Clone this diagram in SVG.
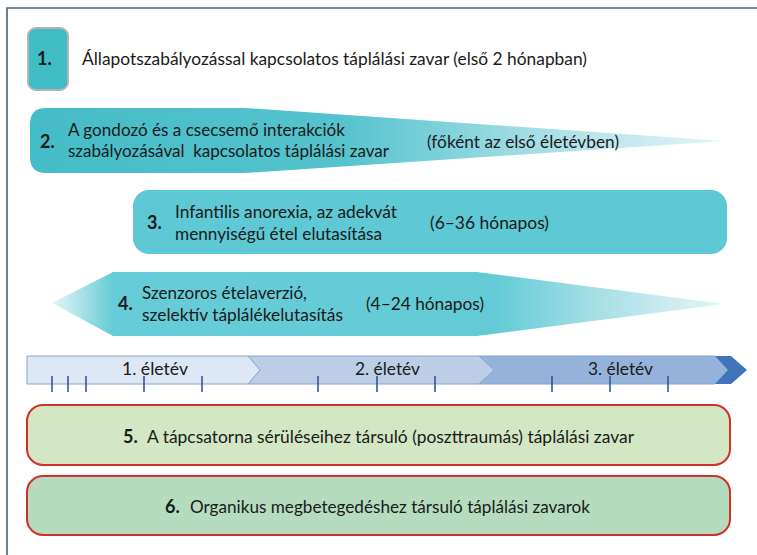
<svg xmlns="http://www.w3.org/2000/svg" width="757" height="555" viewBox="0 0 757 555">
<defs>
<linearGradient id="g2" gradientUnits="userSpaceOnUse" x1="30" y1="0" x2="725" y2="0">
<stop offset="0" stop-color="#44bcc7"/>
<stop offset="0.45" stop-color="#55c3ce"/>
<stop offset="0.72" stop-color="#a3dde5"/>
<stop offset="1" stop-color="#e6f6f8"/>
</linearGradient>
<linearGradient id="g4" gradientUnits="userSpaceOnUse" x1="52" y1="0" x2="725" y2="0">
<stop offset="0" stop-color="#e6f6f8"/>
<stop offset="0.09" stop-color="#66ccd7"/>
<stop offset="0.66" stop-color="#64cbd6"/>
<stop offset="0.82" stop-color="#abe0e7"/>
<stop offset="1" stop-color="#e6f6f8"/>
</linearGradient>
<style>
text{font-family:Lato,"Liberation Sans",sans-serif;fill:#1a1a1a;}
.t{font-size:16.5px;}
.n{font-size:18px;font-weight:bold;}
.tl{font-size:16.5px;}
.tick{stroke:#34569a;stroke-width:1.6;}
.gbox{stroke:#d0302a;stroke-width:2;}
</style>
</defs>
<rect width="757" height="555" fill="#ffffff"/>
<path d="M7,555 V8 H757" fill="none" stroke="#4d5f73" stroke-width="1.6"/>

<g id="node1">
<rect x="28" y="28" width="40" height="62" rx="8" fill="#40bcc4" stroke="#b3b3b3" stroke-width="2"/>
<text class="n" x="37" y="65">1.</text>
<text class="t" x="82" y="65" textLength="505" lengthAdjust="spacingAndGlyphs">Állapotszabályozással kapcsolatos táplálási zavar (első 2 hónapban)</text>
</g>

<g id="node2">
<path d="M46,108 H245 L725,141 L245,173 H46 Q30,173 30,157 V124 Q30,108 46,108 Z" fill="url(#g2)"/>
<text class="n" x="40" y="148">2.</text>
<text class="t" x="68" y="136" textLength="277" lengthAdjust="spacingAndGlyphs">A gondozó és a csecsemő interakciók</text>
<text class="t" x="68" y="157" textLength="321" lengthAdjust="spacingAndGlyphs" xml:space="preserve">szabályozásával  kapcsolatos táplálási zavar</text>
<text class="t" x="427" y="148" textLength="192" lengthAdjust="spacingAndGlyphs">(főként az első életévben)</text>
</g>

<g id="node3">
<rect x="133" y="190" width="594" height="64" rx="16" fill="#5ec8d4"/>
<text class="n" x="147" y="229">3.</text>
<text class="t" x="175" y="218" textLength="222" lengthAdjust="spacingAndGlyphs">Infantilis anorexia, az adekvát</text>
<text class="t" x="175" y="240" textLength="207" lengthAdjust="spacingAndGlyphs">mennyiségű étel elutasítása</text>
<text class="t" x="430" y="229" textLength="119" lengthAdjust="spacingAndGlyphs">(6–36 hónapos)</text>
</g>

<g id="node4">
<path d="M52,303 L113,272 H477 L725,304 L477,336 H113 Z" fill="url(#g4)"/>
<text class="n" x="118" y="310">4.</text>
<text class="t" x="142" y="299" textLength="165" lengthAdjust="spacingAndGlyphs">Szenzoros ételaverzió,</text>
<text class="t" x="142" y="321" textLength="201" lengthAdjust="spacingAndGlyphs">szelektív táplálékelutasítás</text>
<text class="t" x="366" y="310" textLength="118" lengthAdjust="spacingAndGlyphs">(4–24 hónapos)</text>
</g>

<g id="timeline">
<path d="M479,356 H715 L728,370 L715,384 H479 L494,370 Z" fill="#95b3da" stroke="#88a5cf" stroke-width="1"/>
<path d="M248,356 H479 L494,370 L479,384 H248 L260,370 Z" fill="#bccde6" stroke="#88a5cf" stroke-width="1"/>
<path d="M27,356 H248 L260,370 L248,384 H27 Z" fill="#dee8f4" stroke="#8aa6cf" stroke-width="1"/>
<path d="M715,356 H731 L747,370 L731,384 H715 L728,370 Z" fill="#3f74bd"/>
<text class="tl" x="122" y="375" textLength="66" lengthAdjust="spacingAndGlyphs">1. életév</text>
<text class="tl" x="355" y="375" textLength="65" lengthAdjust="spacingAndGlyphs">2. életév</text>
<text class="tl" x="588" y="375" textLength="65" lengthAdjust="spacingAndGlyphs">3. életév</text>
<g class="tick">
<line x1="52" y1="376" x2="52" y2="392"/>
<line x1="68" y1="376" x2="68" y2="392"/>
<line x1="86" y1="376" x2="86" y2="392"/>
<line x1="144" y1="376" x2="144" y2="392"/>
<line x1="202" y1="376" x2="202" y2="392"/>
<line x1="318" y1="376" x2="318" y2="392"/>
<line x1="377" y1="376" x2="377" y2="392"/>
<line x1="435" y1="376" x2="435" y2="392"/>
<line x1="552" y1="376" x2="552" y2="392"/>
<line x1="610" y1="376" x2="610" y2="392"/>
<line x1="668" y1="376" x2="668" y2="392"/>
</g>
</g>

<g id="node5">
<rect class="gbox" x="27" y="405" width="703" height="60" rx="16" fill="#d3e7c4"/>
<text class="n" x="123" y="443">5.</text>
<text class="t" x="147" y="443" textLength="487" lengthAdjust="spacingAndGlyphs">A tápcsatorna sérüléseihez társuló (poszttraumás) táplálási zavar</text>
</g>

<g id="node6">
<rect class="gbox" x="27" y="476" width="703" height="59" rx="16" fill="#b5dcbf"/>
<text class="n" x="165" y="513">6.</text>
<text class="t" x="190" y="513" textLength="400" lengthAdjust="spacingAndGlyphs">Organikus megbetegedéshez társuló táplálási zavarok</text>
</g>

<g id="connectors"></g>
</svg>
